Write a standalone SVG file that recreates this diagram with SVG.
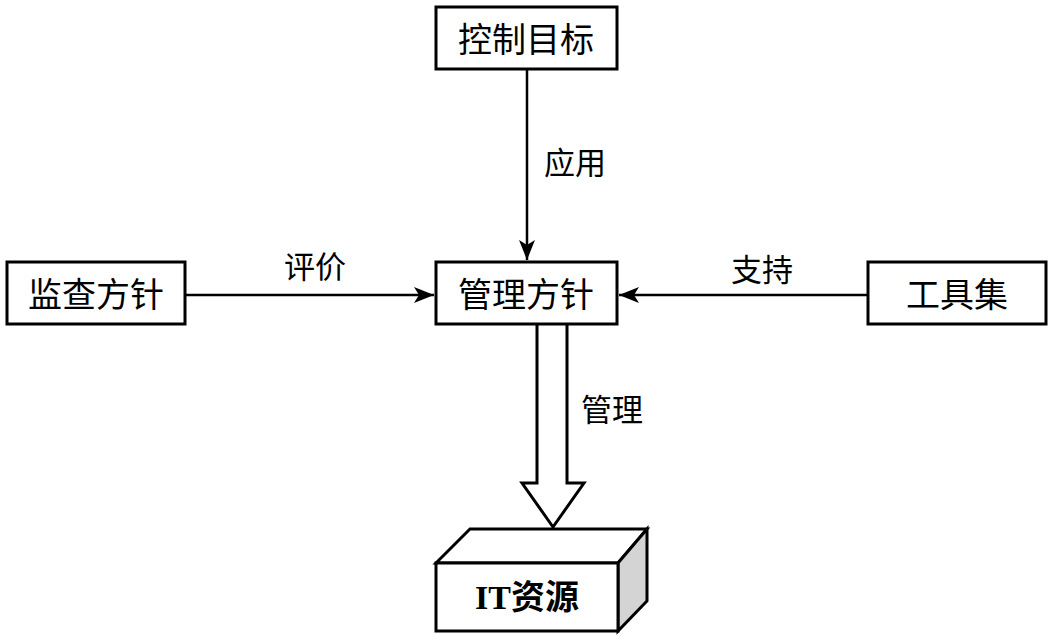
<svg xmlns="http://www.w3.org/2000/svg" width="1064" height="636" viewBox="0 0 1064 636">
<style>
.box{fill:#fff;stroke:#000;stroke-width:3}
.t{font-family:"Liberation Serif","Noto Sans CJK SC",serif;font-size:34px;fill:#000;text-anchor:middle;dominant-baseline:central}
.l{font-family:"Liberation Serif","Noto Sans CJK SC",serif;font-size:31px;fill:#000;text-anchor:middle;dominant-baseline:central}
.c{stroke:#000;stroke-width:2.5;fill:none}
</style>
<defs>
<marker id="ah" viewBox="0 0 10 10" refX="10" refY="5" markerWidth="10" markerHeight="10" markerUnits="userSpaceOnUse" orient="auto" overflow="visible">
<path d="M-10,-3 L10,5 L-10,13 L-5,5 Z" fill="#000"/>
</marker>
</defs>
<rect width="1064" height="636" fill="#fff"/>
<g id="connectors">
<line class="c" x1="527" y1="69" x2="527" y2="260" marker-end="url(#ah)"/>
<line class="c" x1="186" y1="295" x2="434" y2="295" marker-end="url(#ah)"/>
<line class="c" x1="867" y1="295" x2="619" y2="295" marker-end="url(#ah)"/>
<path d="M537,324 L537,483 L522,483 L553,527 L584,483 L567,483 L567,324" fill="#fff" stroke="#000" stroke-width="3" stroke-linejoin="miter"/>
<text class="l" x="575" y="163">应用</text>
<text class="l" x="315" y="267">评价</text>
<text class="l" x="762" y="270">支持</text>
<text class="l" x="612" y="410">管理</text>
</g>
<g id="n-kongzhi"><rect class="box" x="436" y="7" width="181" height="62"/><text class="t" x="526" y="40">控制目标</text></g>
<g id="n-guanli"><rect class="box" x="436" y="262" width="181" height="62"/><text class="t" x="526" y="295">管理方针</text></g>
<g id="n-jiancha"><rect class="box" x="7" y="262" width="178" height="62"/><text class="t" x="96" y="295">监查方针</text></g>
<g id="n-gongju"><rect class="box" x="868" y="262" width="178" height="62"/><text class="t" x="957" y="295">工具集</text></g>
<g id="n-it">
<path d="M436,563 L470,529 L647,529 L618,563 Z" fill="#fff" stroke="#000" stroke-width="3" stroke-linejoin="miter"/>
<path d="M618,563 L647,529 L647,601 L618,631 Z" fill="#d4d4d4" stroke="#000" stroke-width="3" stroke-linejoin="miter"/>
<rect class="box" x="436" y="563" width="182" height="68"/>
<text class="t" x="527" y="597" font-weight="bold">IT资源</text>
</g>
</svg>
